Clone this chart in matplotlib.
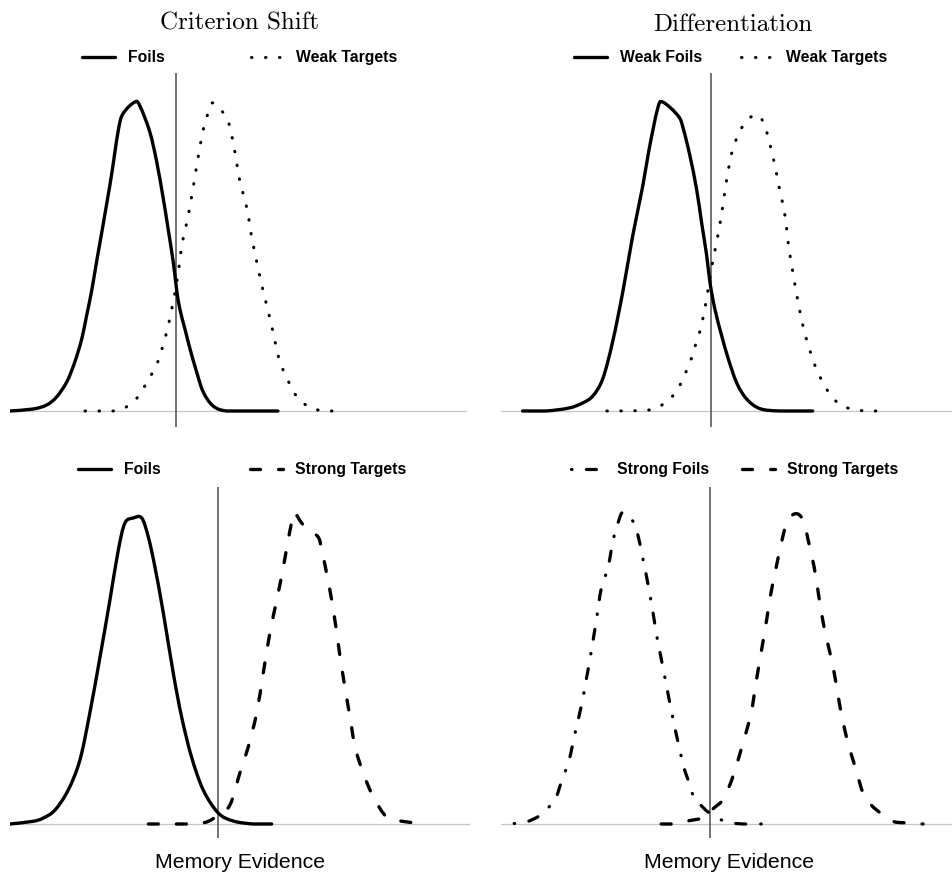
import matplotlib
matplotlib.use("Agg")
import numpy as np
import matplotlib.pyplot as plt
from matplotlib.lines import Line2D
from matplotlib.path import Path
from matplotlib.patches import PathPatch

plt.rcParams["lines.scale_dashes"] = False

# memory evidence (criterion at 0) and relative frequency, one pair per distribution
tl_foils_x = [-5.53, -4.76, -4.31, -3.98, -3.64, -3.37, -3.14, -2.98, -2.81, -2.64, -2.2, -1.93, -1.77, -1.37,
              -1.2, -0.87, -0.64, -0.42, -0.26, -0.09, 0.02, 0.13, 0.3, 0.47, 0.69, 0.91, 1.24, 1.69, 2.57, 3.4]
tl_foils_y = [0, 0.2, 0.6, 1.4, 2.9, 4.9, 7.2, 9.5, 12.0, 15.0, 22.6, 27.9, 29.7, 30.9,
              30.5, 27.9, 24.9, 21.2, 18.2, 14.9, 12.2, 10.2, 8.2, 6.2, 3.9, 1.9, 0.5, 0, 0, 0]

tl_weak_x = [-3.03, -2.07, -1.6, -1.27, -1.0, -0.77, -0.57, -0.3, -0.1, 0.07, 0.2, 0.4, 0.57, 0.73, 0.9, 1.03,
             1.2, 1.53, 1.77, 1.97, 2.13, 2.37, 2.53, 2.73, 2.93, 3.17, 3.37, 3.5, 3.7, 3.9, 4.2, 4.6, 5.07, 5.57]
tl_weak_y = [0, 0, 0.5, 1.4, 2.7, 3.9, 5.2, 8.0, 10.8, 13.7, 16.6, 19.4, 22.3, 25.2, 28.0, 29.4,
             30.8, 30.0, 28.7, 25.8, 23.0, 20.2, 17.3, 14.4, 11.7, 8.8, 6.0, 4.6, 3.3, 2.0, 0.9, 0.2, 0, 0]

tr_foils_x = [-6.28, -5.5, -4.73, -4.28, -3.94, -3.61, -3.28, -2.94, -2.61, -2.28, -2.06, -1.78, -1.61, -1.09,
              -0.92, -0.7, -0.48, -0.31, -0.14, -0.03, 0.13, 0.36, 0.58, 0.86, 1.19, 1.63, 2.3, 3.39]
tr_foils_y = [0, 0, 0.3, 0.8, 1.5, 3.2, 6.9, 11.9, 17.5, 22.4, 26.2, 30.2, 30.9, 29.5,
              28.2, 25.5, 22.2, 18.8, 15.5, 12.8, 10.2, 7.5, 5.2, 2.8, 1.2, 0.24, 0, 0]

tr_weak_x = [-3.47, -2.5, -2.02, -1.58, -1.22, -0.98, -0.78, -0.61, -0.48, -0.33, -0.14, 0, 0.19, 0.36, 0.5,
             0.67, 0.81, 1.02, 1.33, 1.5, 1.67, 1.86, 2.09, 2.28, 2.47, 2.59, 2.74, 2.91, 3.11, 3.39,
             3.56, 3.78, 4.03, 4.39, 4.87, 5.36, 5.83]
tr_weak_y = [0, 0.03, 0.13, 0.7, 1.7, 2.9, 4.3, 5.6, 7.0, 8.4, 11.3, 14.0, 16.9, 19.8, 22.7,
             25.5, 26.9, 28.3, 29.4, 29.6, 29.3, 27.9, 25.1, 22.3, 19.5, 16.5, 13.7, 10.8, 8.0, 5.2,
             3.9, 2.6, 1.4, 0.5, 0.1, 0, 0]

bl_foils_x = [-6.93, -6.16, -5.82, -5.43, -4.99, -4.6, -4.27, -3.93, -3.6, -3.32, -3.1, -2.82, -2.54, -2.32,
              -2.1, -1.82, -1.49, -1.21, -0.88, -0.49, 0.01, 0.51, 1.18, 1.79]
bl_foils_y = [0, 0.27, 0.6, 1.4, 3.4, 6.4, 11.1, 16.7, 22.4, 27.4, 30.1, 30.6, 30.6, 28.7,
              25.7, 21.1, 15.1, 10.7, 6.7, 3.4, 1.1, 0.3, 0, 0]

bl_strong_x = [-2.32, -1.93, -1.38, -0.93, -0.38, 0.01, 0.4, 0.73, 1.01, 1.29, 1.51, 1.73, 1.96, 2.18, 2.34,
               2.51, 2.57, 2.79, 3.01, 3.34, 3.46, 3.62, 3.79, 3.96, 4.07, 4.23, 4.4, 4.57, 4.84, 5.18,
               5.62, 6.07, 6.9]
bl_strong_y = [0, 0, 0, 0, 0.2, 0.9, 1.9, 5.1, 7.7, 11.1, 15.1, 19.1, 22.4, 25.7, 28.4,
               30.9, 31.1, 30.1, 29.4, 28.7, 27.4, 25.1, 22.4, 19.1, 16.7, 13.7, 10.7, 7.7, 5.1, 2.7,
               0.7, 0.3, 0]

br_sfoils_x = [-6.53, -6.13, -5.7, -5.37, -5.13, -4.97, -4.7, -4.5, -4.3, -4.13, -3.97, -3.77, -3.63, -3.4,
               -3.23, -3.07, -2.9, -2.6, -2.43, -2.23, -2.07, -1.9, -1.77, -1.6, -1.4, -1.2, -1.0, -0.87,
               -0.73, -0.6, -0.37, -0.07, 0.3, 0.77, 1.17, 1.87]
br_sfoils_y = [0.05, 0.2, 0.8, 1.7, 2.7, 4.1, 6.4, 9.1, 11.7, 14.4, 17.1, 20.8, 23.5, 25.7,
               28.4, 30.1, 31.2, 30.4, 29.2, 26.4, 24.0, 21.1, 18.7, 16.1, 13.0, 10.0, 7.3, 5.6,
               4.4, 3.1, 2.1, 1.2, 0.5, 0.1, 0, 0]

br_strong_x = [-1.63, -1.23, -0.7, -0.3, -0.03, 0.13, 0.43, 0.63, 0.8, 1.1, 1.37, 1.53, 1.7, 1.87, 2.03,
               2.2, 2.37, 2.53, 2.7, 2.93, 3.13, 3.27, 3.47, 3.63, 3.8, 4.03, 4.2, 4.37, 4.6, 4.87,
               5.1, 5.37, 5.77, 6.13, 6.7, 7.1]
br_strong_y = [0, 0, 0.33, 0.57, 1.1, 1.6, 2.4, 3.7, 5.1, 8.1, 11.1, 14.1, 17.1, 20.1, 23.1,
               25.6, 28.0, 29.9, 30.8, 31.0, 30.2, 28.4, 25.7, 22.7, 19.7, 16.7, 14.1, 11.1, 8.1, 5.4,
               3.1, 1.9, 0.9, 0.23, 0.1, 0]

titles = ["Criterion Shift", "Differentiation"]
x_label = "Memory Evidence"

# line styles (dash lengths in points)
STYLES = {
    "solid": dict(linestyle="-", lw=2.4),
    "dotted": dict(linestyle=(0, (0.36, 9.7)), lw=2.2),
    "dashed": dict(linestyle=(0, (7.2, 13.0)), lw=2.4),
    "dotdash": dict(linestyle=(0, (0.36, 10.4, 7.2, 10.8)), lw=2.3),
}

W, H = 953, 874

panels = [
    dict(box=(10, 73, 467, 427), xlim=(-5.53, 9.7), ylim=(-1.6, 33.8), leg=(82, 57.5), colsp=5.5,
         curves=[(tl_foils_x, tl_foils_y, "solid", "Foils"),
                 (tl_weak_x, tl_weak_y, "dotted", "Weak Targets")]),
    dict(box=(501, 73, 953, 427), xlim=(-7.0, 8.07), ylim=(-1.6, 33.8), leg=(574, 57.5), colsp=2.5,
         curves=[(tr_foils_x, tr_foils_y, "solid", "Weak Foils"),
                 (tr_weak_x, tr_weak_y, "dotted", "Weak Targets")]),
    dict(box=(10, 487, 470, 838), xlim=(-6.93, 8.4), ylim=(-1.4, 33.7), leg=(78, 469.5), colsp=5.7,
         curves=[(bl_foils_x, bl_foils_y, "solid", "Foils"),
                 (bl_strong_x, bl_strong_y, "dashed", "Strong Targets")]),
    dict(box=(501, 487, 953, 838), xlim=(-6.97, 8.1), ylim=(-1.4, 33.7), leg=(571, 469.5), colsp=2.1,
         curves=[(br_sfoils_x, br_sfoils_y, "dotdash", "Strong Foils"),
                 (br_strong_x, br_strong_y, "dashed", "Strong Targets")]),
]


def smooth_path(xs, ys):
    # smoothed line through the points (Catmull-Rom segments as cubic Beziers)
    pts = np.column_stack([xs, ys]).astype(float)
    ext = np.vstack([pts[0], pts, pts[-1]])
    verts, codes = [pts[0]], [Path.MOVETO]
    for i in range(len(pts) - 1):
        p0, p1, p2, p3 = ext[i], ext[i + 1], ext[i + 2], ext[i + 3]
        c1 = p1 + (p2 - p0) / 6
        c2 = p2 - (p3 - p1) / 6
        c1[1] = max(c1[1], 0)
        c2[1] = max(c2[1], 0)
        verts += [c1, c2, p2]
        codes += [Path.CURVE4] * 3
    return Path(verts, codes)


fig = plt.figure(figsize=(W / 100, H / 100), dpi=100)
legend_font = {"family": "Liberation Sans", "weight": "bold", "size": 11.3}

for p in panels:
    l, t, r, b = p["box"]
    ax = fig.add_axes([l / W, 1 - b / H, (r - l) / W, (b - t) / H])
    ax.set_xlim(*p["xlim"])
    ax.set_ylim(*p["ylim"])
    ax.set_axis_off()

    ax.axhline(0, color="#c6c6c6", lw=0.9, zorder=1)
    ax.axvline(0, color="#5a5a5a", lw=1.2, zorder=2)

    handles = []
    for xs, ys, style, name in p["curves"]:
        st = STYLES[style]
        ax.add_patch(PathPatch(smooth_path(xs, ys), fill=False, edgecolor="black",
                               capstyle="round", joinstyle="round", zorder=3, **st))
        handles.append(Line2D([], [], color="black", dash_capstyle="round",
                              solid_capstyle="round", **st))

    lx, ly = p["leg"]
    ax.legend(handles, [c[3] for c in p["curves"]], ncol=2, loc="center left",
              bbox_to_anchor=(lx / W, 1 - ly / H), bbox_transform=fig.transFigure,
              frameon=False, borderpad=0, borderaxespad=0, handlelength=2.1,
              handletextpad=0.8, columnspacing=p["colsp"], prop=legend_font)

fig.text(240 / W, 1 - 23 / H, titles[0], ha="center", va="center", fontfamily="cmr10", fontsize=18)
fig.text(733 / W, 1 - 25 / H, titles[1], ha="center", va="center", fontfamily="cmr10", fontsize=18)
fig.text(240 / W, 1 - 862 / H, x_label, ha="center", va="center", fontfamily="Liberation Sans", fontsize=15.3)
fig.text(729 / W, 1 - 862 / H, x_label, ha="center", va="center", fontfamily="Liberation Sans", fontsize=15.3)

fig.savefig("out.png", dpi=100)
